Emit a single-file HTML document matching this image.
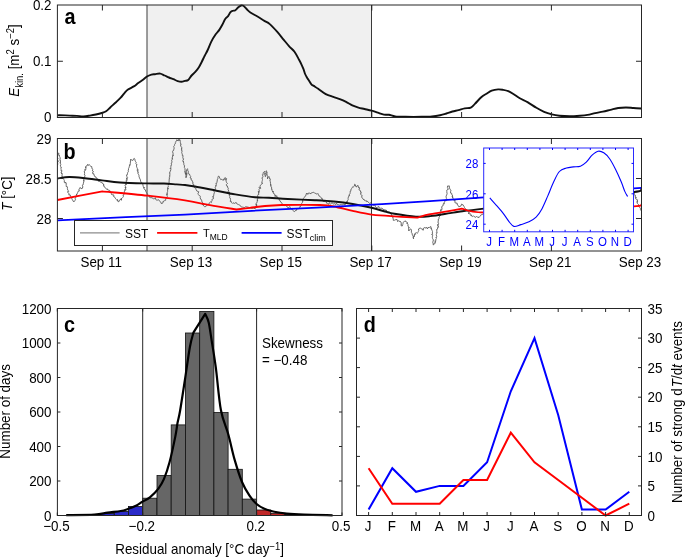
<!DOCTYPE html>
<html><head><meta charset="utf-8"><title>Figure</title>
<style>
html,body{margin:0;padding:0;background:#fff;}
body{width:685px;height:557px;overflow:hidden;}
svg{display:block;font-family:"Liberation Sans", sans-serif;will-change:transform;}
</style></head>
<body>
<svg width="685" height="557" viewBox="0 0 685 557">
<rect width="685" height="557" fill="#fff"/>
<rect x="147.3" y="5.0" width="224.5" height="112.5" fill="#f0f0f0"/>
<line x1="147.0" y1="5.0" x2="147.0" y2="117.5" stroke="#3a3a3a" stroke-width="1"/>
<line x1="371.5" y1="5.0" x2="371.5" y2="117.5" stroke="#3a3a3a" stroke-width="1"/>
<path d="M57.50,115.30 C57.82,115.28 57.38,115.15 59.40,115.20 C61.42,115.25 66.68,115.48 69.60,115.60 C72.52,115.72 74.58,115.77 76.90,115.90 C79.22,116.03 81.32,116.45 83.50,116.40 C85.68,116.35 87.93,115.92 90.00,115.60 C92.07,115.28 93.95,114.93 95.90,114.50 C97.85,114.07 100.00,113.55 101.70,113.00 C103.40,112.45 104.63,112.17 106.10,111.20 C107.57,110.23 108.80,108.73 110.50,107.20 C112.20,105.67 114.60,103.58 116.30,102.00 C118.00,100.42 119.37,99.15 120.70,97.70 C122.03,96.25 123.08,94.65 124.30,93.30 C125.52,91.95 126.42,90.75 128.00,89.60 C129.58,88.45 132.10,87.48 133.80,86.40 C135.50,85.32 136.73,84.15 138.20,83.10 C139.67,82.05 141.13,81.20 142.60,80.10 C144.07,79.00 145.53,77.42 147.00,76.50 C148.47,75.58 150.07,74.98 151.40,74.60 C152.73,74.22 153.53,74.37 155.00,74.20 C156.47,74.03 158.60,73.38 160.20,73.60 C161.80,73.82 163.13,74.85 164.60,75.50 C166.07,76.15 167.53,76.88 169.00,77.50 C170.47,78.12 171.95,78.60 173.40,79.20 C174.85,79.80 176.37,80.67 177.70,81.10 C179.03,81.53 180.18,81.83 181.40,81.80 C182.62,81.77 183.87,81.22 185.00,80.90 C186.13,80.58 187.10,80.80 188.20,79.90 C189.30,79.00 190.42,76.83 191.60,75.50 C192.78,74.17 194.08,73.28 195.30,71.90 C196.52,70.52 197.82,68.90 198.90,67.20 C199.98,65.50 200.83,63.60 201.80,61.70 C202.77,59.80 203.72,57.75 204.70,55.80 C205.68,53.85 206.60,52.37 207.70,50.00 C208.80,47.63 209.97,44.22 211.30,41.60 C212.63,38.98 214.37,36.25 215.70,34.30 C217.03,32.35 218.20,31.48 219.30,29.90 C220.40,28.32 221.32,26.62 222.30,24.80 C223.28,22.98 224.23,20.45 225.20,19.00 C226.17,17.55 227.25,17.20 228.10,16.10 C228.95,15.00 229.57,13.27 230.30,12.40 C231.03,11.53 231.65,11.27 232.50,10.90 C233.35,10.53 234.43,10.80 235.40,10.20 C236.37,9.60 237.33,8.08 238.30,7.30 C239.27,6.52 240.35,5.75 241.20,5.50 C242.05,5.25 242.53,5.25 243.40,5.80 C244.27,6.35 245.23,7.68 246.40,8.80 C247.57,9.92 248.48,11.17 250.40,12.50 C252.32,13.83 255.57,15.40 257.90,16.80 C260.23,18.20 262.42,19.68 264.40,20.90 C266.38,22.12 267.65,22.27 269.80,24.10 C271.95,25.93 274.97,29.27 277.30,31.90 C279.63,34.53 281.82,37.50 283.80,39.90 C285.78,42.30 287.42,44.33 289.20,46.30 C290.98,48.27 292.83,49.42 294.50,51.70 C296.17,53.98 298.05,57.90 299.20,60.00 C300.35,62.10 300.68,62.77 301.40,64.30 C302.12,65.83 302.92,67.67 303.50,69.20 C304.08,70.73 304.35,72.15 304.90,73.50 C305.45,74.85 306.13,76.13 306.80,77.30 C307.47,78.47 308.13,79.33 308.90,80.50 C309.67,81.67 310.58,83.40 311.40,84.30 C312.22,85.20 312.67,85.15 313.80,85.90 C314.93,86.65 316.20,87.43 318.20,88.80 C320.20,90.17 323.28,92.75 325.80,94.10 C328.32,95.45 330.97,96.07 333.30,96.90 C335.63,97.73 337.67,98.27 339.80,99.10 C341.93,99.93 344.02,100.85 346.10,101.90 C348.18,102.95 350.25,104.45 352.30,105.40 C354.35,106.35 356.37,107.00 358.40,107.60 C360.43,108.20 362.28,108.48 364.50,109.00 C366.72,109.52 369.48,110.08 371.70,110.70 C373.92,111.32 375.77,112.05 377.80,112.70 C379.83,113.35 382.03,114.25 383.90,114.60 C385.77,114.95 387.12,114.50 389.00,114.80 C390.88,115.10 392.47,116.07 395.20,116.40 C397.93,116.73 400.98,116.73 405.40,116.80 C409.82,116.87 417.27,116.87 421.70,116.80 C426.13,116.73 428.93,116.67 432.00,116.40 C435.07,116.13 437.72,115.68 440.10,115.20 C442.48,114.72 444.25,114.12 446.30,113.50 C448.35,112.88 450.37,112.07 452.40,111.50 C454.43,110.93 456.45,110.62 458.50,110.10 C460.55,109.58 462.65,108.82 464.70,108.40 C466.75,107.98 469.10,108.35 470.80,107.60 C472.50,106.85 473.12,105.67 474.90,103.90 C476.68,102.13 479.55,98.70 481.50,97.00 C483.45,95.30 484.90,94.75 486.60,93.70 C488.30,92.65 489.78,91.42 491.70,90.70 C493.62,89.98 496.18,89.53 498.10,89.40 C500.02,89.27 501.50,89.60 503.20,89.90 C504.90,90.20 506.60,90.52 508.30,91.20 C510.00,91.88 511.48,92.82 513.40,94.00 C515.32,95.18 517.45,96.93 519.80,98.30 C522.15,99.67 524.73,100.62 527.50,102.20 C530.27,103.78 533.63,106.18 536.40,107.80 C539.17,109.42 541.53,110.80 544.10,111.90 C546.67,113.00 549.25,113.77 551.80,114.40 C554.35,115.03 556.43,115.40 559.40,115.70 C562.37,116.00 566.18,116.20 569.60,116.20 C573.02,116.20 576.92,115.92 579.90,115.70 C582.88,115.48 584.95,115.33 587.50,114.90 C590.05,114.47 592.63,113.65 595.20,113.10 C597.77,112.55 600.35,112.15 602.90,111.60 C605.45,111.05 607.95,110.40 610.50,109.80 C613.05,109.20 615.63,108.38 618.20,108.00 C620.77,107.62 623.35,107.50 625.90,107.50 C628.45,107.50 630.95,107.83 633.50,108.00 C636.05,108.17 639.92,108.42 641.20,108.50" fill="none" stroke="#111" stroke-width="1.9" stroke-linejoin="round"/>
<rect x="57.4" y="5.0" width="584.1" height="112.5" fill="none" stroke="#262626" stroke-width="1"/>
<line x1="102.4" y1="117.5" x2="102.4" y2="112.0" stroke="#262626"/>
<line x1="102.4" y1="5.0" x2="102.4" y2="10.5" stroke="#262626"/>
<line x1="192.2" y1="117.5" x2="192.2" y2="112.0" stroke="#262626"/>
<line x1="192.2" y1="5.0" x2="192.2" y2="10.5" stroke="#262626"/>
<line x1="282.0" y1="117.5" x2="282.0" y2="112.0" stroke="#262626"/>
<line x1="282.0" y1="5.0" x2="282.0" y2="10.5" stroke="#262626"/>
<line x1="371.8" y1="117.5" x2="371.8" y2="112.0" stroke="#262626"/>
<line x1="371.8" y1="5.0" x2="371.8" y2="10.5" stroke="#262626"/>
<line x1="461.6" y1="117.5" x2="461.6" y2="112.0" stroke="#262626"/>
<line x1="461.6" y1="5.0" x2="461.6" y2="10.5" stroke="#262626"/>
<line x1="551.4" y1="117.5" x2="551.4" y2="112.0" stroke="#262626"/>
<line x1="551.4" y1="5.0" x2="551.4" y2="10.5" stroke="#262626"/>
<line x1="57.4" y1="61.25" x2="62.9" y2="61.25" stroke="#262626"/>
<line x1="641.5" y1="61.25" x2="636.0" y2="61.25" stroke="#262626"/>
<g font-size="13.4" fill="#000" text-anchor="end">
<text transform="translate(51.5,10.1) scale(1,1.07)">0.2</text>
<text transform="translate(51.5,66.35) scale(1,1.07)">0.1</text>
<text transform="translate(51.5,122.2) scale(1,1.07)">0</text>
</g>
<text transform="translate(70,24) scale(1,1.07)" font-size="19.8" font-weight="bold" text-anchor="middle">a</text>
<text transform="translate(18.6,60.5) rotate(-90) scale(1,1.07)" font-size="13.4" text-anchor="middle"><tspan font-style="italic">E</tspan><tspan font-size="9.5" dy="4.3">kin.</tspan><tspan dy="-4.3"> [m</tspan><tspan font-size="9.5" dy="-4.5">2</tspan><tspan dy="4.5"> s</tspan><tspan font-size="9.5" dy="-4.5">−2</tspan><tspan dy="4.5">]</tspan></text>
<rect x="147.3" y="138.5" width="224.5" height="112.5" fill="#f0f0f0"/>
<line x1="147.0" y1="138.5" x2="147.0" y2="251.0" stroke="#3a3a3a" stroke-width="1"/>
<line x1="371.5" y1="138.5" x2="371.5" y2="251.0" stroke="#3a3a3a" stroke-width="1"/>
<defs><clipPath id="cb"><rect x="57.5" y="138.5" width="583.7" height="112"/></clipPath></defs>
<g clip-path="url(#cb)">
<polyline points="57.8,165.0 57.7,164.5 57.7,163.2 57.5,162.4 58.2,162.0 58.2,161.1 57.9,160.2 57.2,159.8 58.0,158.8 57.2,156.6 57.5,156.6 57.9,156.0 58.0,154.8 57.9,154.7 57.8,153.6 58.8,153.0 58.8,154.9 59.5,155.5 59.3,155.2 59.6,156.5 60.0,157.4 60.3,158.4 60.0,158.4 60.0,160.6 60.0,160.8 60.5,160.5 60.4,163.0 59.8,162.9 60.5,163.4 60.8,164.6 60.2,166.0 61.0,166.8 61.4,167.3 61.0,167.1 61.0,168.7 61.4,169.1 61.1,169.5 61.1,170.8 62.0,170.7 61.2,172.8 62.3,173.8 61.3,172.8 62.2,174.7 61.8,176.5 62.8,176.8 62.5,177.5 63.1,178.5 64.0,179.4 64.1,180.2 64.4,180.6 64.2,182.2 65.5,182.5 64.8,182.7 66.2,182.8 66.2,185.3 66.2,186.5 67.0,186.3 67.4,187.0 67.4,188.3 67.5,189.4 67.4,189.2 68.2,190.3 67.7,191.6 68.7,191.6 67.8,192.5 68.4,193.2 69.1,193.6 68.8,195.0 70.2,194.9 70.7,196.3 70.8,197.4 71.9,198.3 72.0,198.6 72.3,199.6 72.6,200.0 73.2,201.2 73.9,202.0 74.4,201.2 74.8,200.7 75.5,199.8 75.1,198.8 75.3,197.7 75.7,197.7 75.9,196.5 77.0,193.9 76.3,194.8 77.0,193.8 77.5,193.2 77.6,192.7 78.2,191.2 79.4,191.0 78.9,190.0 79.1,189.1 79.6,188.3 80.1,187.5 80.1,187.9 82.0,188.8 82.6,187.3 82.4,187.7 83.0,187.2 82.3,185.3 83.0,185.0 83.3,183.8 83.8,181.3 83.9,181.2 83.8,180.4 83.8,181.2 83.7,179.7 84.2,178.8 84.0,178.8 84.5,176.9 85.2,175.5 84.6,175.2 84.4,175.0 84.5,173.7 84.7,173.2 84.2,171.1 85.2,170.6 84.7,169.5 85.7,170.0 85.9,168.1 85.5,167.2 85.9,168.0 85.8,166.2 86.1,166.5 87.4,164.8 87.7,164.3 87.8,165.5 89.3,164.7 90.2,165.5 90.8,166.5 91.7,166.5 92.0,168.8 92.1,168.7 92.9,169.4 92.3,170.9 92.9,171.1 93.6,171.7 92.5,172.4 92.9,173.9 93.9,173.8 94.0,175.0 94.6,176.1 95.2,177.0 95.8,176.8 96.3,178.1 97.4,179.0 97.1,179.2 97.2,178.7 98.4,180.0 98.3,181.3 99.2,181.3 100.2,181.9 101.1,182.2 102.1,182.5 102.3,183.4 103.6,184.0 103.5,185.3 103.7,184.7 104.0,186.8 104.6,186.9 104.6,187.2 106.2,188.6 106.5,189.2 107.2,188.7 107.8,190.0 108.1,190.0 109.8,190.5 110.3,191.3 110.5,191.6 110.7,192.7 111.4,193.7 111.5,194.5 112.8,195.0 113.1,194.5 114.1,196.1 113.5,196.4 114.9,197.3 115.3,198.2 116.1,199.3 116.5,199.7 117.3,200.5 117.5,199.5 117.8,201.4 118.9,201.8 119.2,200.3 120.0,200.1 121.3,198.4 121.4,200.3 121.5,198.6 122.5,197.6 123.5,196.7 123.3,196.5 123.1,195.0 123.9,194.8 124.1,193.3 124.4,192.6 124.2,191.6 125.0,191.0 124.5,189.7 125.9,190.0 125.3,187.0 125.4,188.0 126.0,187.2 125.5,186.4 124.9,185.9 125.9,184.0 126.4,184.7 125.5,182.4 126.3,182.1 126.3,181.2 126.3,179.8 127.3,180.2 126.3,177.9 127.4,178.5 127.6,177.5 126.8,176.4 126.5,174.9 127.3,174.8 127.5,173.7 127.4,172.8 128.1,172.3 128.4,171.3 128.2,170.8 128.6,169.0 128.5,168.7 128.9,168.0 129.2,167.1 129.4,166.2 129.6,164.7 130.0,165.3 130.3,163.7 130.5,162.5 129.9,162.3 130.5,161.9 130.7,159.1 131.3,159.9 132.6,160.5 132.8,160.5 133.8,158.6 134.3,158.4 135.1,159.9 135.0,161.0 135.7,161.7 136.3,162.8 135.9,163.6 136.8,164.6 136.7,164.3 136.5,166.2 136.7,167.2 137.0,167.4 137.4,168.7 137.3,170.5 138.0,169.7 137.7,172.2 137.7,171.9 138.4,172.2 137.8,173.1 138.5,174.5 138.8,174.6 139.0,175.7 138.9,176.2 139.3,177.1 139.4,178.3 139.4,178.3 140.1,178.7 140.2,179.2 140.7,181.2 140.8,182.3 141.6,182.6 141.7,182.5 142.8,184.4 142.9,184.3 142.8,184.5 143.2,186.3 143.9,187.6 143.3,187.7 144.6,187.5 144.1,188.6 145.1,190.0 145.3,189.9 145.9,191.7 146.5,192.7 147.2,193.7 147.0,193.8 147.1,194.1 147.7,194.4 148.6,195.7 149.3,195.4 149.2,197.0 150.2,197.6 151.1,197.7 152.0,197.7 153.2,198.7 153.9,198.8 154.6,198.7 155.4,197.7 155.8,199.6 156.4,200.0 157.7,200.1 158.6,199.7 159.3,200.8 160.2,201.4 160.8,202.6 161.1,202.6 161.5,203.9 162.1,203.2 163.0,202.8 163.1,201.2 164.0,201.4 164.8,200.3 165.9,200.1 165.6,199.2 166.0,198.5 166.5,197.4 167.3,196.6 167.0,196.0 167.1,193.7 166.6,194.4 167.2,194.8 167.1,192.6 167.3,192.6 167.6,191.6 167.6,190.1 167.8,188.8 168.1,188.0 167.9,189.1 167.8,187.0 168.5,186.2 167.9,185.6 168.5,185.0 168.4,183.8 168.2,184.0 169.3,182.1 168.9,181.0 169.4,180.0 169.3,179.3 168.9,179.2 169.8,177.9 169.2,177.6 169.5,176.4 170.2,176.1 169.6,175.9 169.9,174.2 169.8,172.9 169.5,173.1 170.3,171.2 170.9,169.6 170.0,168.5 171.1,168.4 170.8,167.7 170.9,166.3 171.1,165.3 171.2,165.5 171.5,164.3 171.1,163.7 171.4,163.7 172.0,161.9 171.7,160.7 171.6,160.1 172.2,159.7 172.2,158.6 172.5,159.1 172.2,157.0 173.6,155.1 172.5,155.5 172.9,154.8 172.9,154.0 173.1,153.4 172.5,151.6 173.4,150.7 173.1,150.9 173.4,150.1 174.0,149.1 174.1,148.0 174.0,147.3 173.7,146.4 174.6,145.3 174.6,145.2 174.6,144.4 175.8,142.8 175.3,142.3 175.8,141.4 176.7,140.8 176.6,139.8 177.5,140.0 177.8,141.0 178.4,140.0 179.1,139.1 178.8,140.8 180.0,139.7 180.3,141.4 180.3,142.3 180.6,143.3 180.1,143.7 181.3,144.3 180.6,144.6 180.7,146.4 181.9,147.3 181.5,149.2 181.6,148.6 181.5,149.0 182.0,150.5 181.6,150.3 182.1,151.9 181.7,152.5 182.1,153.7 182.3,154.1 182.3,155.6 183.1,155.6 183.0,156.1 182.8,157.4 183.0,158.7 183.6,158.8 183.2,160.0 182.8,160.7 183.3,161.8 183.3,161.2 183.8,163.4 183.8,164.6 184.1,164.9 184.1,165.4 184.6,165.6 184.3,167.4 185.0,168.1 184.9,168.7 185.1,170.9 184.9,172.2 185.0,171.6 185.4,172.4 185.6,173.9 185.2,172.8 185.9,175.4 186.0,177.4 186.0,176.8 186.0,177.5 186.4,176.9 186.7,175.1 186.1,172.9 186.6,173.9 186.7,174.6 186.4,172.3 186.3,171.1 186.3,171.1 186.6,169.9 187.5,168.7 187.7,169.6 187.8,170.9 188.2,171.1 188.4,171.9 187.9,173.7 188.5,173.7 189.4,174.0 190.0,175.5 190.7,176.5 190.1,178.0 191.1,178.3 191.3,178.4 191.0,179.8 191.9,180.0 192.1,180.6 192.5,181.6 192.9,182.1 192.8,181.9 192.9,184.3 193.8,184.5 193.5,186.5 193.8,186.3 194.2,187.5 195.4,187.8 195.7,188.1 195.9,189.2 196.3,190.0 197.0,191.3 197.6,191.3 198.8,191.8 198.0,193.4 198.1,194.4 198.8,195.0 199.4,195.6 199.8,195.6 200.3,196.3 200.2,197.7 200.7,199.3 201.3,199.5 201.6,200.1 202.0,202.0 202.1,202.1 202.8,202.9 202.2,205.0 203.7,203.1 203.2,205.1 203.8,206.1 204.5,206.6 205.8,206.6 206.4,205.8 207.1,204.5 208.1,205.2 208.9,203.9 209.3,202.9 210.6,201.9 211.4,202.6 211.6,201.5 212.1,200.5 211.9,199.9 212.5,198.9 212.8,198.9 213.5,198.6 213.1,196.5 212.7,197.1 213.9,195.1 213.8,194.2 214.4,192.6 214.5,192.6 213.8,191.9 215.1,189.8 215.1,190.2 215.1,189.5 215.5,188.2 215.2,187.5 215.7,186.5 215.9,185.5 215.8,186.2 216.3,184.3 215.9,183.2 216.6,183.4 216.9,182.4 217.0,181.3 217.2,181.3 217.3,179.3 218.0,178.8 217.8,177.6 218.0,177.4 218.3,176.2 219.1,176.3 219.7,178.0 220.2,178.7 220.7,179.6 221.8,179.4 222.7,180.0 223.6,180.2 223.7,179.0 224.3,179.5 225.2,177.5 225.2,179.1 225.4,179.7 226.6,178.5 225.9,181.1 226.2,181.3 226.5,182.5 227.5,183.4 226.3,184.7 226.5,185.7 227.1,185.9 228.0,186.7 227.3,186.5 228.4,188.8 227.9,189.7 228.4,190.0 228.7,191.2 227.9,191.5 229.1,193.0 229.3,191.9 229.1,194.5 230.1,194.5 229.2,195.9 229.8,196.5 229.6,197.6 230.3,198.0 230.3,199.0 230.6,199.7 230.3,201.6 231.3,201.4 231.5,202.6 232.5,203.3 233.0,202.8 234.5,203.4 235.3,203.2 235.9,202.3 237.2,204.2 237.5,204.2 238.4,204.5 239.0,205.1 239.4,205.0 240.2,205.4 240.8,206.6 241.4,206.9 242.3,207.1 243.9,207.4 244.1,207.6 244.8,207.5 246.0,206.3 246.7,207.2 247.8,207.0 248.5,207.3 249.8,208.0 250.4,207.8 251.6,208.4 252.1,208.3 253.1,208.3 254.0,207.7 255.0,209.0 255.1,208.2 255.1,207.4 255.9,206.6 256.7,204.3 256.1,204.0 256.8,205.9 255.8,203.7 256.9,202.8 257.2,201.8 257.3,199.9 257.6,200.6 257.4,199.2 257.7,198.5 257.7,197.7 256.9,197.2 257.9,196.9 257.6,195.6 258.3,194.9 258.2,194.0 258.8,194.4 258.3,191.2 259.1,192.4 259.3,191.1 259.0,189.3 259.7,188.4 258.9,187.5 260.7,188.4 260.0,186.4 260.4,185.2 261.4,184.4 262.0,184.0 262.6,183.1 261.8,183.2 262.0,181.7 262.3,180.6 262.5,179.5 261.9,177.8 262.1,177.8 262.7,177.5 263.0,176.7 262.6,175.4 262.2,174.9 263.2,174.5 263.1,173.3 263.2,172.6 264.2,172.0 264.5,171.4 264.9,172.6 264.8,173.9 264.6,173.7 264.6,174.3 265.6,176.6 265.1,176.4 265.3,175.9 265.9,175.3 266.0,173.2 265.6,173.4 266.5,172.4 265.8,171.3 266.3,170.7 266.2,171.0 267.1,172.0 266.7,174.5 267.2,174.2 266.7,175.0 267.7,176.0 267.7,176.5 267.5,177.1 267.6,178.9 267.6,178.9 267.5,178.0 268.6,176.9 268.9,176.4 269.0,177.7 270.0,178.4 269.6,178.0 270.4,179.8 269.9,179.9 270.1,181.4 270.3,181.5 270.5,183.3 270.6,184.0 270.5,185.5 270.7,184.3 271.1,185.7 270.9,186.8 271.6,187.1 271.6,189.5 272.1,189.3 272.0,190.2 272.4,190.9 272.7,192.2 273.1,191.0 273.5,192.7 273.9,194.0 274.8,194.3 275.2,196.6 275.4,195.2 276.4,196.5 276.7,195.7 277.4,198.0 278.9,198.4 279.1,198.0 279.2,200.2 279.9,200.4 280.7,202.1 281.7,202.7 281.4,202.8 282.1,203.5 283.3,204.9 283.2,204.9 283.9,205.3 284.8,205.7 285.2,205.3 286.0,205.5 287.4,207.1 287.7,207.2 288.1,208.2 289.7,206.5 290.2,207.8 291.5,208.9 292.2,208.3 292.3,209.9 292.7,210.3 293.7,211.1 294.6,211.6 295.9,210.1 296.5,210.3 296.8,208.8 297.8,208.7 299.0,208.6 299.6,207.8 300.0,206.6 300.2,206.9 301.0,205.6 301.0,205.7 301.5,204.0 301.6,203.6 302.5,202.3 302.7,201.0 303.1,201.0 302.5,200.5 303.1,200.1 303.4,198.5 304.0,197.8 304.6,197.0 305.0,196.2 305.7,195.9 305.9,195.2 306.6,193.0 307.6,194.2 307.2,193.8 308.6,193.8 309.1,192.7 309.7,193.4 311.1,193.7 312.2,192.1 312.9,192.8 313.7,192.1 315.0,193.6 315.4,193.4 317.0,194.2 317.5,193.9 317.9,193.5 318.5,194.7 319.1,196.1 320.0,196.4 320.6,196.9 321.1,197.6 321.6,198.8 322.3,198.5 322.5,199.6 322.8,201.1 324.2,201.5 325.0,201.5 325.1,201.8 326.3,201.6 326.8,203.4 327.6,203.4 328.9,204.4 329.1,202.6 330.6,204.0 331.3,203.4 332.3,202.8 333.5,204.2 334.3,203.6 335.1,204.0 336.0,204.6 336.5,203.2 337.6,204.7 338.3,204.6 339.3,205.1 340.2,204.6 341.4,204.6 342.2,204.8 343.9,204.1 345.0,205.1 345.2,204.0 346.0,203.6 346.8,202.4 346.7,201.1 347.4,201.8 347.7,200.2 348.2,199.6 348.2,198.6 348.0,198.3 348.7,196.2 348.8,195.5 349.7,195.8 349.2,194.9 350.2,193.2 350.2,192.7 350.0,191.4 350.7,191.3 351.1,189.0 351.7,188.5 352.3,187.9 352.1,187.3 352.7,187.0 353.1,187.2 354.3,186.1 354.7,184.2 355.2,184.5 355.4,185.0 355.7,186.5 356.5,187.0 356.8,186.0 357.7,185.8 357.8,185.3 358.9,188.1 359.2,187.5 359.6,188.9 358.9,189.8 360.5,190.7 360.6,192.1 361.0,191.8 361.2,193.3 360.5,193.4 360.7,194.3 361.5,195.2 362.1,195.3 361.6,197.4 362.9,198.3 362.7,198.8 364.3,200.1 364.0,199.6 364.7,200.1 365.5,201.0 366.7,200.8 366.6,201.6 367.8,201.5 368.4,202.4 369.4,203.4 370.5,202.7 370.9,203.4 371.8,204.9 372.3,204.6 373.7,205.5 374.1,205.2 375.0,204.8 375.1,206.1 376.5,207.9 376.7,207.4 377.8,207.1 378.8,206.4 379.0,207.9 380.0,208.1 380.7,208.3 381.9,208.2 382.7,208.6 383.2,209.5 384.3,209.5 384.8,210.0 386.3,210.2 386.4,211.0 387.0,211.6 387.4,211.7 388.6,211.7 388.9,211.8 390.3,212.4 390.8,213.9 391.2,213.6 391.6,215.6 391.6,215.3 392.2,216.0 393.4,217.0 392.6,217.3 393.2,218.8 393.4,220.5 393.6,220.3 394.6,220.2 395.8,219.6 397.1,219.5 397.6,221.6 398.0,221.0 398.6,220.7 400.1,221.7 400.1,221.3 401.0,222.0 401.4,224.7 401.0,224.4 401.2,225.8 402.3,226.0 402.3,225.0 402.9,224.6 403.0,223.4 403.2,222.6 403.7,221.7 404.4,221.4 405.9,221.0 405.6,221.4 407.4,222.5 406.7,223.3 407.2,222.9 408.0,224.6 407.9,225.9 408.5,226.2 408.3,226.4 409.3,228.0 408.7,227.4 408.7,231.0 409.4,230.3 409.7,229.6 410.9,228.9 411.3,229.7 411.4,229.8 411.4,232.5 411.7,232.8 412.3,233.2 411.9,233.8 412.8,235.5 412.5,236.0 413.3,236.0 413.5,236.7 413.3,238.1 413.8,238.9 413.0,238.0 413.8,236.4 414.2,236.9 414.5,236.4 414.4,234.0 415.6,234.3 415.2,233.2 416.6,232.7 417.3,233.2 418.0,232.5 418.3,231.5 418.8,230.3 418.4,229.0 419.6,228.6 419.5,228.2 420.2,228.0 421.7,228.9 422.2,228.8 423.1,230.3 423.5,229.0 423.8,227.9 424.5,227.5 425.2,227.6 426.0,228.3 426.8,227.2 427.4,228.9 427.9,228.0 429.1,227.0 429.6,227.5 430.0,226.9 431.0,226.7 431.1,228.2 431.3,229.1 431.2,228.3 432.0,230.3 432.5,231.4 432.3,232.0 432.3,232.0 432.5,233.2 432.6,234.4 431.6,234.3 432.8,235.8 432.3,236.8 432.3,237.2 432.5,238.4 433.1,239.1 433.3,241.0 433.3,241.3 432.7,241.6 432.7,241.9 432.8,242.7 433.4,244.2 432.9,244.7 433.9,244.7 434.4,242.8 435.3,243.2 435.4,242.1 435.1,240.9 434.8,241.0 435.7,241.4 435.9,238.9 436.5,238.3 436.2,237.1 436.0,237.4 436.7,236.7 436.3,234.9 436.3,234.6 436.7,233.2 436.3,232.7 437.3,232.4 436.7,231.3 436.9,229.4 436.8,229.7 438.0,227.8 437.3,227.1 438.6,227.1 437.6,224.5 437.7,225.5 438.7,223.8 438.2,223.1 438.1,222.0 437.9,222.0 438.3,221.2 438.3,219.0 439.2,218.5 439.5,218.1 439.0,217.6 439.9,215.3 440.4,215.9 440.2,213.7 439.9,213.7 440.3,213.1 440.9,211.4 440.5,210.3 440.9,210.9 440.7,209.5 441.7,210.1 442.0,208.1 441.6,206.9 442.0,206.8 442.5,205.9 442.9,206.0 443.4,203.5 444.3,203.9 444.2,202.0 444.6,201.6 444.7,200.6 446.1,200.9 446.5,199.6 445.8,199.3 446.4,198.7 446.6,198.3 446.1,197.2 446.1,196.2 446.6,195.1 447.0,194.1 447.1,193.7 446.8,192.0 446.8,191.5 446.7,190.4 447.0,189.9 448.3,189.4 447.6,187.7 447.3,187.2 447.7,186.0 447.8,185.8 448.9,186.2 449.3,185.9 449.4,188.0 449.9,188.9 450.4,189.8 450.8,190.2 451.1,191.1 450.5,191.4 450.6,193.1 451.8,193.4 451.6,194.0 452.8,196.2 452.3,196.0 452.6,197.6 452.3,196.6 453.0,198.1 453.2,199.6 453.7,200.3 455.3,200.6 454.8,201.9 455.3,203.0 455.9,203.1 457.1,203.1 457.1,204.4 457.7,204.3 457.5,204.6 458.7,206.7 460.0,206.5 460.9,206.0 461.6,204.1 462.2,204.6 463.0,204.6 462.9,204.8 464.0,206.4 464.1,207.1 464.5,207.5 465.0,208.2 465.9,209.2 466.6,209.6 467.0,210.2 467.4,210.7 468.7,212.1 468.5,213.9 468.8,213.2 469.9,212.8 470.2,214.9 471.2,215.7 471.4,214.8 471.7,216.1 472.2,216.5 473.6,215.9 474.1,216.5 475.2,217.2 476.0,217.2 476.8,216.3 478.3,217.9 478.8,216.8 479.5,216.9 480.4,216.1 481.1,214.7 481.7,214.6 482.5,214.5 482.5,214.4 484.1,213.6 483.9,211.8 485.4,212.1 485.4,211.1 486.0,211.4 487.1,211.6 487.2,212.4 489.5,210.9 489.8,211.0 490.4,210.5 491.1,209.9 492.0,210.3 492.8,209.6 493.5,210.0 494.5,209.2 495.3,210.3 496.1,209.3 496.6,209.2 497.8,210.2 498.3,208.7 499.3,209.1 499.6,208.3 500.7,209.0 501.1,207.9 502.5,207.6 503.2,208.4 503.9,207.4 504.7,207.7 505.7,207.2 506.8,206.6 507.1,207.4 508.3,206.9 509.0,206.8 509.8,208.0 510.2,207.1 510.8,207.2 512.4,206.5 512.4,206.6 514.0,206.9 514.7,205.0 514.9,206.8 515.5,206.4 517.5,206.1 518.0,205.3 518.0,205.2 519.1,205.1 520.0,205.0 521.1,204.9 521.7,205.2 522.4,206.0 523.4,204.9 523.9,204.4 525.3,204.8 525.2,204.3 526.4,204.3 527.6,203.9 528.2,204.6 528.4,204.5 529.6,204.7 530.2,204.5 530.6,203.6 532.3,204.9 532.8,203.8 534.0,202.9 534.1,204.5 535.4,203.4 535.3,204.9 536.9,203.4 537.6,204.4 537.5,204.5 539.5,202.6 540.3,202.7 541.2,203.9 542.4,203.3 542.4,204.2 543.0,203.1 543.9,203.5 544.4,203.7 545.8,203.4 547.0,203.2 547.7,203.0 548.3,202.1 548.9,203.1 549.4,202.8 550.3,202.7 550.4,202.7 551.8,202.7 552.4,202.9 553.9,202.7 554.2,203.7 555.6,203.4 556.4,202.6 556.8,203.4 557.4,202.6 558.5,202.8 559.1,203.1 559.9,202.9 561.2,202.8 561.9,201.7 561.9,202.0 563.4,203.2 563.6,202.4 564.5,201.8 565.5,202.6 566.5,202.8 566.8,202.6 568.3,202.0 569.0,201.6 569.2,201.7 570.2,203.6 571.0,202.8 572.1,201.9 573.1,201.2 573.9,201.9 573.9,202.0 575.4,201.8 576.6,201.3 577.0,201.9 577.3,202.1 577.9,200.6 579.4,200.6 580.0,200.3 580.8,200.5 581.7,200.2 582.6,200.9 583.2,201.0 584.0,200.2 583.9,201.0 585.3,200.6 586.6,199.7 586.9,200.4 587.6,200.9 588.7,200.2 589.2,201.1 590.2,201.0 591.4,199.4 591.6,200.5 592.9,200.9 593.9,201.0 594.3,200.2 595.5,200.0 596.4,199.3 597.0,200.1 596.9,200.7 598.5,200.1 598.8,199.8 600.0,200.0 601.3,199.3 600.3,199.2 601.9,199.4 603.0,198.8 603.7,199.8 604.2,200.2 605.3,198.2 606.6,199.0 606.7,198.9 607.2,197.8 609.1,198.0 609.0,198.3 610.6,197.8 610.4,197.4 612.0,197.9 613.3,197.2 613.3,197.1 614.7,196.4 615.5,195.2 616.1,196.2 616.8,196.9 617.0,196.3 618.3,196.5 618.6,195.4 619.1,197.3 620.5,195.5 620.8,196.0 621.9,196.2 623.2,195.2 624.0,194.3 624.4,194.5 624.8,194.7 626.0,195.3 625.7,193.9 627.3,193.9 628.6,194.2 629.3,193.5 630.2,193.9 630.2,193.3 631.1,192.6 632.5,193.2 633.3,192.4 634.0,192.8 634.2,193.0 634.7,194.7 635.5,195.8 634.9,195.5 635.2,196.7 636.5,197.7 635.3,197.3 635.9,199.1 636.7,199.7 637.6,199.8 637.0,202.2 637.7,201.3 637.2,201.6 637.3,203.3 638.5,204.6 638.7,204.4 638.8,206.7 638.8,206.4 639.7,207.4 639.9,208.1 640.6,208.5 640.4,209.2 640.6,209.9 641.2,210.8" fill="none" stroke="#5c5c5c" stroke-width="0.9" stroke-linejoin="round"/>
<path d="M57.50,178.50 C59.47,178.25 64.72,177.05 69.30,177.00 C73.88,176.95 79.55,177.63 85.00,178.20 C90.45,178.77 96.17,179.68 102.00,180.40 C107.83,181.12 112.50,182.00 120.00,182.50 C127.50,183.00 139.67,183.23 147.00,183.40 C154.33,183.57 159.07,183.33 164.00,183.50 C168.93,183.67 173.10,184.15 176.60,184.40 C180.10,184.65 181.93,184.65 185.00,185.00 C188.07,185.35 189.77,185.55 195.00,186.50 C200.23,187.45 209.68,189.38 216.40,190.70 C223.12,192.02 228.87,193.30 235.30,194.40 C241.73,195.50 249.40,196.73 255.00,197.30 C260.60,197.87 263.45,197.52 268.90,197.80 C274.35,198.08 280.02,198.60 287.70,199.00 C295.38,199.40 307.30,199.78 315.00,200.20 C322.70,200.62 327.62,200.87 333.90,201.50 C340.18,202.13 346.42,202.95 352.70,204.00 C358.98,205.05 366.22,206.55 371.60,207.80 C376.98,209.05 381.20,210.50 385.00,211.50 C388.80,212.50 389.25,212.93 394.40,213.80 C399.55,214.67 409.92,216.32 415.90,216.70 C421.88,217.08 424.62,216.70 430.30,216.10 C435.98,215.50 445.27,213.82 450.00,213.10 C454.73,212.38 453.05,212.55 458.70,211.80 C464.35,211.05 467.02,210.57 483.90,208.60 C500.78,206.63 534.97,202.77 560.00,200.00 C585.03,197.23 620.57,193.85 634.10,192.00 C647.63,190.15 640.02,189.42 641.20,188.90" fill="none" stroke="#111" stroke-width="1.9" stroke-linejoin="round"/>
<path d="M57.50,200.00 C64.98,198.57 94.92,192.83 102.40,191.40 L102.40,191.40 C109.93,192.12 133.83,194.20 147.60,195.70 C161.37,197.20 174.60,198.83 185.00,200.40 C195.40,201.97 201.42,203.58 210.00,205.10 C218.58,206.62 232.08,208.77 236.50,209.50 L236.50,209.50 C238.75,209.22 245.25,208.38 250.00,207.80 C254.75,207.22 259.77,206.47 265.00,206.00 C270.23,205.53 275.57,205.20 281.40,205.00 C287.23,204.80 293.57,204.80 300.00,204.80 C306.43,204.80 314.35,204.72 320.00,205.00 C325.65,205.28 328.45,205.52 333.90,206.50 C339.35,207.48 346.42,209.53 352.70,210.90 C358.98,212.27 366.22,213.92 371.60,214.70 C376.98,215.48 380.02,215.25 385.00,215.60 C389.98,215.95 396.23,216.45 401.50,216.80 C406.77,217.15 414.08,217.55 416.60,217.70 L416.60,217.70 C418.88,217.12 424.73,215.33 430.30,214.20 C435.87,213.07 444.78,211.83 450.00,210.90 C455.22,209.97 459.67,208.98 461.60,208.60 L461.60,208.60 C465.32,209.25 467.50,212.27 483.90,212.50 C500.30,212.73 534.98,211.03 560.00,210.00 C585.02,208.97 620.42,207.22 634.00,206.30 C647.58,205.38 640.25,204.80 641.50,204.50" fill="none" stroke="#ff0000" stroke-width="1.8" stroke-linejoin="round"/>
<polyline points="57.5,220.3 126.0,217.2 185.0,214.6 252.0,210.8 317.0,207.6 382.0,204.2 430.0,201.2 483.9,197.4 560.0,193.0 634.0,188.3 641.5,187.8" fill="none" stroke="#0000ff" stroke-width="1.8" stroke-linejoin="round"/>
</g>
<rect x="57.4" y="138.5" width="584.1" height="112.5" fill="none" stroke="#262626" stroke-width="1"/>
<line x1="102.4" y1="251.0" x2="102.4" y2="245.5" stroke="#262626"/>
<line x1="102.4" y1="138.5" x2="102.4" y2="144.0" stroke="#262626"/>
<line x1="192.2" y1="251.0" x2="192.2" y2="245.5" stroke="#262626"/>
<line x1="192.2" y1="138.5" x2="192.2" y2="144.0" stroke="#262626"/>
<line x1="282.0" y1="251.0" x2="282.0" y2="245.5" stroke="#262626"/>
<line x1="282.0" y1="138.5" x2="282.0" y2="144.0" stroke="#262626"/>
<line x1="371.8" y1="251.0" x2="371.8" y2="245.5" stroke="#262626"/>
<line x1="371.8" y1="138.5" x2="371.8" y2="144.0" stroke="#262626"/>
<line x1="461.6" y1="251.0" x2="461.6" y2="245.5" stroke="#262626"/>
<line x1="461.6" y1="138.5" x2="461.6" y2="144.0" stroke="#262626"/>
<line x1="551.4" y1="251.0" x2="551.4" y2="245.5" stroke="#262626"/>
<line x1="551.4" y1="138.5" x2="551.4" y2="144.0" stroke="#262626"/>
<line x1="57.4" y1="178.5" x2="62.9" y2="178.5" stroke="#262626"/>
<line x1="641.5" y1="178.5" x2="636.0" y2="178.5" stroke="#262626"/>
<line x1="57.4" y1="218.5" x2="62.9" y2="218.5" stroke="#262626"/>
<line x1="641.5" y1="218.5" x2="636.0" y2="218.5" stroke="#262626"/>
<rect x="74.5" y="220.5" width="258" height="25" fill="#fff" stroke="#262626" stroke-width="1"/>
<line x1="80" y1="232.8" x2="119.6" y2="232.8" stroke="#8c8c8c" stroke-width="1.3"/>
<line x1="157.1" y1="232.8" x2="197.4" y2="232.8" stroke="#ff0000" stroke-width="1.8"/>
<line x1="241.6" y1="232.8" x2="281.6" y2="232.8" stroke="#0000ff" stroke-width="1.8"/>
<g font-size="12">
<text transform="translate(125,238.0) scale(1,1.07)">SST</text>
<text transform="translate(203,236.9) scale(1,1.07)" font-size="11">T<tspan font-size="8.5" dy="3.3">MLD</tspan></text>
<text transform="translate(286.5,238.0) scale(1,1.07)">SST<tspan font-size="9" dy="2.6">clim</tspan></text>
</g>
<g font-size="13.4" text-anchor="end">
<text transform="translate(51.5,143.6) scale(1,1.07)">29</text>
<text transform="translate(51.5,183.6) scale(1,1.07)">28.5</text>
<text transform="translate(51.5,223.6) scale(1,1.07)">28</text>
</g>
<text transform="translate(69.5,158.8) scale(1,1.07)" font-size="19.8" font-weight="bold" text-anchor="middle">b</text>
<text transform="translate(12,193.6) rotate(-90) scale(1,1.07)" font-size="13.4" text-anchor="middle"><tspan font-style="italic">T</tspan> [°C]</text>
<g font-size="13.4" text-anchor="middle">
<text transform="translate(101.2,267.1) scale(1,1.07)">Sep 11</text>
<text transform="translate(191.0,267.1) scale(1,1.07)">Sep 13</text>
<text transform="translate(280.8,267.1) scale(1,1.07)">Sep 15</text>
<text transform="translate(370.6,267.1) scale(1,1.07)">Sep 17</text>
<text transform="translate(460.4,267.1) scale(1,1.07)">Sep 19</text>
<text transform="translate(550.2,267.1) scale(1,1.07)">Sep 21</text>
<text transform="translate(640.0,267.1) scale(1,1.07)">Sep 23</text>
</g>
<rect x="483.7" y="148.0" width="149.8" height="83.8" fill="#fff"/>
<path d="M489.80,197.90 C490.90,199.15 494.13,202.78 496.40,205.40 C498.67,208.02 501.27,210.87 503.40,213.60 C505.53,216.33 507.45,219.67 509.20,221.80 C510.95,223.93 511.95,225.93 513.90,226.40 C515.85,226.87 518.38,225.37 520.90,224.60 C523.42,223.83 526.47,223.05 529.00,221.80 C531.53,220.55 533.95,219.25 536.10,217.10 C538.25,214.95 539.97,212.40 541.90,208.90 C543.83,205.40 545.75,200.58 547.70,196.10 C549.65,191.62 551.65,186.10 553.60,182.00 C555.55,177.90 557.27,173.83 559.40,171.50 C561.53,169.17 564.07,168.77 566.40,168.00 C568.73,167.23 571.07,167.20 573.40,166.90 C575.73,166.60 578.25,166.98 580.40,166.20 C582.55,165.42 584.35,164.03 586.30,162.20 C588.25,160.37 590.15,157.03 592.10,155.20 C594.05,153.37 596.05,151.60 598.00,151.20 C599.95,150.80 601.87,151.55 603.80,152.80 C605.73,154.05 607.65,155.97 609.60,158.70 C611.55,161.43 613.55,165.32 615.50,169.20 C617.45,173.08 619.75,178.30 621.30,182.00 C622.85,185.70 623.75,188.98 624.80,191.40 C625.85,193.82 627.13,195.65 627.60,196.50" fill="none" stroke="#0000ff" stroke-width="1.1" stroke-linejoin="round"/>
<rect x="483.7" y="148.0" width="149.8" height="83.8" fill="none" stroke="#2a2aff" stroke-width="1"/>
<line x1="489.5" y1="231.8" x2="489.5" y2="229.8" stroke="#0000ff"/>
<line x1="489.5" y1="148.0" x2="489.5" y2="150.0" stroke="#0000ff"/>
<line x1="502.1" y1="231.8" x2="502.1" y2="229.8" stroke="#0000ff"/>
<line x1="502.1" y1="148.0" x2="502.1" y2="150.0" stroke="#0000ff"/>
<line x1="514.7" y1="231.8" x2="514.7" y2="229.8" stroke="#0000ff"/>
<line x1="514.7" y1="148.0" x2="514.7" y2="150.0" stroke="#0000ff"/>
<line x1="527.3" y1="231.8" x2="527.3" y2="229.8" stroke="#0000ff"/>
<line x1="527.3" y1="148.0" x2="527.3" y2="150.0" stroke="#0000ff"/>
<line x1="539.9" y1="231.8" x2="539.9" y2="229.8" stroke="#0000ff"/>
<line x1="539.9" y1="148.0" x2="539.9" y2="150.0" stroke="#0000ff"/>
<line x1="552.5" y1="231.8" x2="552.5" y2="229.8" stroke="#0000ff"/>
<line x1="552.5" y1="148.0" x2="552.5" y2="150.0" stroke="#0000ff"/>
<line x1="565.1" y1="231.8" x2="565.1" y2="229.8" stroke="#0000ff"/>
<line x1="565.1" y1="148.0" x2="565.1" y2="150.0" stroke="#0000ff"/>
<line x1="577.7" y1="231.8" x2="577.7" y2="229.8" stroke="#0000ff"/>
<line x1="577.7" y1="148.0" x2="577.7" y2="150.0" stroke="#0000ff"/>
<line x1="590.3" y1="231.8" x2="590.3" y2="229.8" stroke="#0000ff"/>
<line x1="590.3" y1="148.0" x2="590.3" y2="150.0" stroke="#0000ff"/>
<line x1="602.9" y1="231.8" x2="602.9" y2="229.8" stroke="#0000ff"/>
<line x1="602.9" y1="148.0" x2="602.9" y2="150.0" stroke="#0000ff"/>
<line x1="615.5" y1="231.8" x2="615.5" y2="229.8" stroke="#0000ff"/>
<line x1="615.5" y1="148.0" x2="615.5" y2="150.0" stroke="#0000ff"/>
<line x1="628.1" y1="231.8" x2="628.1" y2="229.8" stroke="#0000ff"/>
<line x1="628.1" y1="148.0" x2="628.1" y2="150.0" stroke="#0000ff"/>
<line x1="483.7" y1="224.2" x2="485.7" y2="224.2" stroke="#0000ff"/>
<line x1="633.5" y1="224.2" x2="631.5" y2="224.2" stroke="#0000ff"/>
<line x1="483.7" y1="193.8" x2="485.7" y2="193.8" stroke="#0000ff"/>
<line x1="633.5" y1="193.8" x2="631.5" y2="193.8" stroke="#0000ff"/>
<line x1="483.7" y1="163.4" x2="485.7" y2="163.4" stroke="#0000ff"/>
<line x1="633.5" y1="163.4" x2="631.5" y2="163.4" stroke="#0000ff"/>
<g font-size="11.5" fill="#0000ff" text-anchor="middle">
<text transform="translate(489.0,245.6) scale(1,1.07)">J</text>
<text transform="translate(501.6,245.6) scale(1,1.07)">F</text>
<text transform="translate(514.2,245.6) scale(1,1.07)">M</text>
<text transform="translate(526.8,245.6) scale(1,1.07)">A</text>
<text transform="translate(539.4,245.6) scale(1,1.07)">M</text>
<text transform="translate(552.0,245.6) scale(1,1.07)">J</text>
<text transform="translate(564.6,245.6) scale(1,1.07)">J</text>
<text transform="translate(577.2,245.6) scale(1,1.07)">A</text>
<text transform="translate(589.8,245.6) scale(1,1.07)">S</text>
<text transform="translate(602.4,245.6) scale(1,1.07)">O</text>
<text transform="translate(615.0,245.6) scale(1,1.07)">N</text>
<text transform="translate(627.6,245.6) scale(1,1.07)">D</text>
</g>
<g font-size="11.5" fill="#0000ff" text-anchor="end">
<text transform="translate(478.3,229.0) scale(1,1.07)">24</text>
<text transform="translate(478.3,198.6) scale(1,1.07)">26</text>
<text transform="translate(478.3,168.2) scale(1,1.07)">28</text>
</g>
<rect x="71.6" y="515.3" width="14.2" height="0.2" fill="#2a2ac8" stroke="#111" stroke-width="0.8"/>
<rect x="85.8" y="514.8" width="14.2" height="0.7" fill="#2a2ac8" stroke="#111" stroke-width="0.8"/>
<rect x="100.0" y="513.4" width="14.2" height="2.1" fill="#2a2ac8" stroke="#111" stroke-width="0.8"/>
<rect x="114.3" y="511.4" width="14.2" height="4.1" fill="#2a2ac8" stroke="#111" stroke-width="0.8"/>
<rect x="128.5" y="506.5" width="14.2" height="9.0" fill="#2a2ac8" stroke="#111" stroke-width="0.8"/>
<rect x="142.7" y="498.2" width="14.2" height="17.2" fill="#666666" stroke="#111" stroke-width="0.8"/>
<rect x="157.0" y="475.5" width="14.2" height="40.0" fill="#666666" stroke="#111" stroke-width="0.8"/>
<rect x="171.2" y="424.9" width="14.2" height="90.6" fill="#666666" stroke="#111" stroke-width="0.8"/>
<rect x="185.4" y="333.0" width="14.2" height="182.5" fill="#666666" stroke="#111" stroke-width="0.8"/>
<rect x="199.7" y="311.4" width="14.2" height="204.1" fill="#666666" stroke="#111" stroke-width="0.8"/>
<rect x="213.9" y="412.5" width="14.2" height="103.0" fill="#666666" stroke="#111" stroke-width="0.8"/>
<rect x="228.1" y="469.3" width="14.2" height="46.2" fill="#666666" stroke="#111" stroke-width="0.8"/>
<rect x="242.3" y="499.1" width="14.2" height="16.4" fill="#666666" stroke="#111" stroke-width="0.8"/>
<rect x="256.6" y="510.0" width="14.2" height="5.5" fill="#c02828" stroke="#111" stroke-width="0.8"/>
<rect x="270.8" y="513.3" width="14.2" height="2.2" fill="#c02828" stroke="#111" stroke-width="0.8"/>
<rect x="285.0" y="514.5" width="14.2" height="1.0" fill="#c02828" stroke="#111" stroke-width="0.8"/>
<rect x="299.3" y="515.0" width="14.2" height="0.5" fill="#c02828" stroke="#111" stroke-width="0.8"/>
<rect x="313.5" y="515.3" width="14.2" height="0.2" fill="#c02828" stroke="#111" stroke-width="0.8"/>
<line x1="142.7" y1="308.5" x2="142.7" y2="515.5" stroke="#262626" stroke-width="1"/>
<line x1="256.6" y1="308.5" x2="256.6" y2="515.5" stroke="#262626" stroke-width="1"/>
<path d="M66.20,515.20 C70.90,515.12 87.50,515.12 94.40,514.70 C101.30,514.28 103.22,513.32 107.60,512.70 C111.98,512.08 117.42,511.58 120.70,511.00 C123.98,510.42 124.67,510.12 127.30,509.20 C129.93,508.28 134.13,506.65 136.50,505.50 C138.87,504.35 139.27,503.67 141.50,502.30 C143.73,500.93 147.08,499.58 149.90,497.30 C152.72,495.02 156.05,491.67 158.40,488.60 C160.75,485.53 162.13,483.33 164.00,478.90 C165.87,474.47 167.72,469.05 169.60,462.00 C171.48,454.95 173.98,443.10 175.30,436.60 C176.62,430.10 176.72,427.22 177.50,423.00 C178.28,418.78 178.77,418.47 180.00,411.30 C181.23,404.13 183.25,390.72 184.90,380.00 C186.55,369.28 188.48,354.88 189.90,347.00 C191.32,339.12 192.82,335.08 193.40,332.70 L205.2,313.9 L205.20,313.90 C205.78,315.33 207.62,318.00 208.70,322.50 C209.78,327.00 210.52,333.42 211.70,340.90 C212.88,348.38 214.27,355.88 215.80,367.40 C217.33,378.92 218.80,398.77 220.90,410.00 C223.00,421.23 226.12,426.53 228.40,434.80 C230.68,443.07 232.33,451.73 234.60,459.60 C236.87,467.47 239.52,476.00 242.00,482.00 C244.48,488.00 247.02,491.88 249.50,495.60 C251.98,499.32 254.42,502.10 256.90,504.30 C259.38,506.50 261.50,507.55 264.40,508.80 C267.30,510.05 270.58,510.98 274.30,511.80 C278.02,512.62 281.73,513.22 286.70,513.70 C291.67,514.18 296.45,514.43 304.10,514.70 C311.75,514.97 327.85,515.20 332.60,515.30" fill="none" stroke="#000" stroke-width="2.2" stroke-linejoin="round"/>
<rect x="57.4" y="308.5" width="284.6" height="207.0" fill="none" stroke="#262626" stroke-width="1"/>
<line x1="57.4" y1="515.5" x2="60.4" y2="515.5" stroke="#262626"/>
<line x1="342.0" y1="515.5" x2="339.0" y2="515.5" stroke="#262626"/>
<line x1="57.4" y1="481.0" x2="60.4" y2="481.0" stroke="#262626"/>
<line x1="342.0" y1="481.0" x2="339.0" y2="481.0" stroke="#262626"/>
<line x1="57.4" y1="446.5" x2="60.4" y2="446.5" stroke="#262626"/>
<line x1="342.0" y1="446.5" x2="339.0" y2="446.5" stroke="#262626"/>
<line x1="57.4" y1="412.0" x2="60.4" y2="412.0" stroke="#262626"/>
<line x1="342.0" y1="412.0" x2="339.0" y2="412.0" stroke="#262626"/>
<line x1="57.4" y1="377.5" x2="60.4" y2="377.5" stroke="#262626"/>
<line x1="342.0" y1="377.5" x2="339.0" y2="377.5" stroke="#262626"/>
<line x1="57.4" y1="343.0" x2="60.4" y2="343.0" stroke="#262626"/>
<line x1="342.0" y1="343.0" x2="339.0" y2="343.0" stroke="#262626"/>
<line x1="57.4" y1="308.5" x2="60.4" y2="308.5" stroke="#262626"/>
<line x1="342.0" y1="308.5" x2="339.0" y2="308.5" stroke="#262626"/>
<line x1="57.3" y1="515.5" x2="57.3" y2="512.5" stroke="#262626"/>
<line x1="57.3" y1="308.5" x2="57.3" y2="311.5" stroke="#262626"/>
<line x1="142.7" y1="515.5" x2="142.7" y2="512.5" stroke="#262626"/>
<line x1="142.7" y1="308.5" x2="142.7" y2="311.5" stroke="#262626"/>
<line x1="256.6" y1="515.5" x2="256.6" y2="512.5" stroke="#262626"/>
<line x1="256.6" y1="308.5" x2="256.6" y2="311.5" stroke="#262626"/>
<line x1="342.0" y1="515.5" x2="342.0" y2="512.5" stroke="#262626"/>
<line x1="342.0" y1="308.5" x2="342.0" y2="311.5" stroke="#262626"/>
<g font-size="13.4" text-anchor="end">
<text transform="translate(51.5,520.6) scale(1,1.07)">0</text>
<text transform="translate(51.5,486.1) scale(1,1.07)">200</text>
<text transform="translate(51.5,451.6) scale(1,1.07)">400</text>
<text transform="translate(51.5,417.1) scale(1,1.07)">600</text>
<text transform="translate(51.5,382.6) scale(1,1.07)">800</text>
<text transform="translate(51.5,348.1) scale(1,1.07)">1000</text>
<text transform="translate(51.5,313.6) scale(1,1.07)">1200</text>
</g>
<g font-size="13.4" text-anchor="middle">
<text transform="translate(56.4,531) scale(1,1.07)">−0.5</text>
<text transform="translate(141.8,531) scale(1,1.07)">−0.2</text>
<text transform="translate(255.7,531) scale(1,1.07)">0.2</text>
<text transform="translate(341.1,531) scale(1,1.07)">0.5</text>
</g>
<text transform="translate(69.5,331.6) scale(1,1.07)" font-size="19.8" font-weight="bold" text-anchor="middle">c</text>
<text transform="translate(262,347.9) scale(1,1.07)" font-size="13.4">Skewness</text>
<text transform="translate(262,365) scale(1,1.07)" font-size="13.4">= −0.48</text>
<text transform="translate(10.3,411.4) rotate(-90) scale(1,1.07)" font-size="13.4" text-anchor="middle">Number of days</text>
<text transform="translate(199.6,554.4) scale(1,1.07)" font-size="13.4" text-anchor="middle">Residual anomaly [°C day<tspan font-size="9.5" dy="-4.5">−1</tspan><tspan dy="4.5">]</tspan></text>
<polyline points="368.6,509.6 392.3,468.2 416.0,491.8 439.7,485.9 463.4,485.9 487.1,462.3 510.8,391.3 534.5,338.1 558.2,415.0 581.9,509.6 605.6,509.6 629.3,491.8" fill="none" stroke="#0000ff" stroke-width="2"/>
<polyline points="368.6,468.2 392.3,503.7 416.0,503.7 439.7,503.7 463.4,480.0 487.1,480.0 510.8,432.7 534.5,462.3 558.2,480.0 581.9,497.8 605.6,515.5 629.3,503.7" fill="none" stroke="#ff0000" stroke-width="2"/>
<rect x="356.5" y="308.5" width="285.0" height="207.0" fill="none" stroke="#262626" stroke-width="1"/>
<line x1="368.6" y1="515.5" x2="368.6" y2="512.0" stroke="#262626"/>
<line x1="368.6" y1="308.5" x2="368.6" y2="312.0" stroke="#262626"/>
<line x1="392.3" y1="515.5" x2="392.3" y2="512.0" stroke="#262626"/>
<line x1="392.3" y1="308.5" x2="392.3" y2="312.0" stroke="#262626"/>
<line x1="416.0" y1="515.5" x2="416.0" y2="512.0" stroke="#262626"/>
<line x1="416.0" y1="308.5" x2="416.0" y2="312.0" stroke="#262626"/>
<line x1="439.7" y1="515.5" x2="439.7" y2="512.0" stroke="#262626"/>
<line x1="439.7" y1="308.5" x2="439.7" y2="312.0" stroke="#262626"/>
<line x1="463.4" y1="515.5" x2="463.4" y2="512.0" stroke="#262626"/>
<line x1="463.4" y1="308.5" x2="463.4" y2="312.0" stroke="#262626"/>
<line x1="487.1" y1="515.5" x2="487.1" y2="512.0" stroke="#262626"/>
<line x1="487.1" y1="308.5" x2="487.1" y2="312.0" stroke="#262626"/>
<line x1="510.8" y1="515.5" x2="510.8" y2="512.0" stroke="#262626"/>
<line x1="510.8" y1="308.5" x2="510.8" y2="312.0" stroke="#262626"/>
<line x1="534.5" y1="515.5" x2="534.5" y2="512.0" stroke="#262626"/>
<line x1="534.5" y1="308.5" x2="534.5" y2="312.0" stroke="#262626"/>
<line x1="558.2" y1="515.5" x2="558.2" y2="512.0" stroke="#262626"/>
<line x1="558.2" y1="308.5" x2="558.2" y2="312.0" stroke="#262626"/>
<line x1="581.9" y1="515.5" x2="581.9" y2="512.0" stroke="#262626"/>
<line x1="581.9" y1="308.5" x2="581.9" y2="312.0" stroke="#262626"/>
<line x1="605.6" y1="515.5" x2="605.6" y2="512.0" stroke="#262626"/>
<line x1="605.6" y1="308.5" x2="605.6" y2="312.0" stroke="#262626"/>
<line x1="629.3" y1="515.5" x2="629.3" y2="512.0" stroke="#262626"/>
<line x1="629.3" y1="308.5" x2="629.3" y2="312.0" stroke="#262626"/>
<line x1="356.5" y1="515.5" x2="360.0" y2="515.5" stroke="#262626"/>
<line x1="641.5" y1="515.5" x2="638.0" y2="515.5" stroke="#262626"/>
<line x1="356.5" y1="485.9" x2="360.0" y2="485.9" stroke="#262626"/>
<line x1="641.5" y1="485.9" x2="638.0" y2="485.9" stroke="#262626"/>
<line x1="356.5" y1="456.4" x2="360.0" y2="456.4" stroke="#262626"/>
<line x1="641.5" y1="456.4" x2="638.0" y2="456.4" stroke="#262626"/>
<line x1="356.5" y1="426.8" x2="360.0" y2="426.8" stroke="#262626"/>
<line x1="641.5" y1="426.8" x2="638.0" y2="426.8" stroke="#262626"/>
<line x1="356.5" y1="397.2" x2="360.0" y2="397.2" stroke="#262626"/>
<line x1="641.5" y1="397.2" x2="638.0" y2="397.2" stroke="#262626"/>
<line x1="356.5" y1="367.6" x2="360.0" y2="367.6" stroke="#262626"/>
<line x1="641.5" y1="367.6" x2="638.0" y2="367.6" stroke="#262626"/>
<line x1="356.5" y1="338.1" x2="360.0" y2="338.1" stroke="#262626"/>
<line x1="641.5" y1="338.1" x2="638.0" y2="338.1" stroke="#262626"/>
<line x1="356.5" y1="308.5" x2="360.0" y2="308.5" stroke="#262626"/>
<line x1="641.5" y1="308.5" x2="638.0" y2="308.5" stroke="#262626"/>
<g font-size="13.4" text-anchor="middle">
<text transform="translate(368.1,531.3) scale(1,1.07)">J</text>
<text transform="translate(391.8,531.3) scale(1,1.07)">F</text>
<text transform="translate(415.5,531.3) scale(1,1.07)">M</text>
<text transform="translate(439.2,531.3) scale(1,1.07)">A</text>
<text transform="translate(462.9,531.3) scale(1,1.07)">M</text>
<text transform="translate(486.6,531.3) scale(1,1.07)">J</text>
<text transform="translate(510.3,531.3) scale(1,1.07)">J</text>
<text transform="translate(534.0,531.3) scale(1,1.07)">A</text>
<text transform="translate(557.7,531.3) scale(1,1.07)">S</text>
<text transform="translate(581.4,531.3) scale(1,1.07)">O</text>
<text transform="translate(605.1,531.3) scale(1,1.07)">N</text>
<text transform="translate(628.8,531.3) scale(1,1.07)">D</text>
</g>
<g font-size="13.4">
<text transform="translate(647.5,520.6) scale(1,1.07)">0</text>
<text transform="translate(647.5,491.0) scale(1,1.07)">5</text>
<text transform="translate(647.5,461.5) scale(1,1.07)">10</text>
<text transform="translate(647.5,431.9) scale(1,1.07)">15</text>
<text transform="translate(647.5,402.3) scale(1,1.07)">20</text>
<text transform="translate(647.5,372.7) scale(1,1.07)">25</text>
<text transform="translate(647.5,343.2) scale(1,1.07)">30</text>
<text transform="translate(647.5,313.6) scale(1,1.07)">35</text>
</g>
<text transform="translate(369.8,331.6) scale(1,1.07)" font-size="19.8" font-weight="bold" text-anchor="middle">d</text>
<text transform="translate(681.8,412) rotate(-90) scale(1,1.07)" font-size="13.4" text-anchor="middle">Number of strong d<tspan font-style="italic" dx="1.2">T</tspan>/d<tspan font-style="italic">t</tspan> events</text>
</svg>
</body></html>
